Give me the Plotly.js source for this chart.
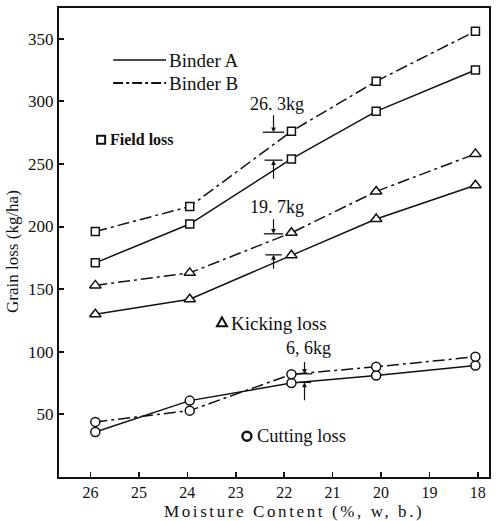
<!DOCTYPE html>
<html>
<head>
<meta charset="utf-8">
<script src="https://cdn.plot.ly/plotly-3.0.1.min.js"></script>
<style>
  html, body { margin: 0; padding: 0; background: #fff; }
  #chart { width: 501px; height: 521px; }
</style>
</head>
<body>
<div id="chart"></div>
<script>
// Moisture content of the crop at harvest (%, wet basis)
const moisture = [25.9, 23.95, 21.85, 20.1, 18.05];

// Grain losses (kg/ha) for the two binders
const fieldA   = [171, 202, 254, 292, 325];
const fieldB   = [196, 216, 276, 316, 356];
const kickA    = [130, 142, 177, 206, 233];
const kickB    = [153, 163, 195, 228, 258];
const cutA     = [36, 61, 75, 81, 89];
const cutB     = [44, 53, 82, 88, 96];

const xTicks = [26, 25, 24, 23, 22, 21, 20, 19, 18];
const yTicks = [50, 100, 150, 200, 250, 300, 350];

// Difference callouts between Binder B and Binder A
const gapLabels  = ['26. 3kg', '19. 7kg', '6, 6kg'];
const gapX       = [22.22, 22.22, 21.58];
const gapHalf    = [0.22, 0.2, 0.16];
const gapTop     = [275.3, 194.2, 82.4];
const gapBottom  = [253, 177.4, 75.5];
const gapTopTail = [290, 207, 93];
const gapBotTail = [237, 165, 60];
const gapTextY   = [298, 215.7, 103];

// Loss-type captions
const lossNames = ['Field loss', 'Kicking loss', 'Cutting loss'];

const FONT = 'Liberation Serif, Times New Roman, serif';
const INK = '#111';
const dashB = '12px,4px,3px,4px';

function series(y, symbol, size, dashed) {
  return {
    x: moisture, y: y, type: 'scatter', mode: 'lines+markers',
    line: { color: INK, width: 1.5, dash: dashed ? dashB : 'solid' },
    marker: { symbol: symbol, size: size, color: '#fff', line: { color: INK, width: 1.5 } },
    showlegend: false, hoverinfo: 'skip'
  };
}

const traces = [
  series(fieldA, 'square', 8, false),
  series(fieldB, 'square', 8, true),
  series(kickA, 'triangle-up', 10, false),
  series(kickB, 'triangle-up', 10, true),
  series(cutA, 'circle', 9, false),
  series(cutB, 'circle', 9, true)
];

const shapes = [];
const annotations = [];

// Legend lines drawn in paper space
shapes.push({ type: 'line', xref: 'paper', yref: 'paper', x0: 0.126, x1: 0.249, y0: 0.889, y1: 0.889,
  line: { color: INK, width: 1.6 } });
shapes.push({ type: 'line', xref: 'paper', yref: 'paper', x0: 0.126, x1: 0.249, y0: 0.840, y1: 0.840,
  line: { color: INK, width: 2, dash: '10px,3px,3px,3px' } });
annotations.push({ xref: 'paper', yref: 'paper', x: 0.250, y: 0.889, xanchor: 'left', yanchor: 'middle',
  text: 'Binder A', showarrow: false, font: { family: FONT, size: 19, color: INK } });
annotations.push({ xref: 'paper', yref: 'paper', x: 0.250, y: 0.840, xanchor: 'left', yanchor: 'middle',
  text: 'Binder B', showarrow: false, font: { family: FONT, size: 19, color: INK } });

// Symbol keys for the loss types (pixel-sized, anchored in paper space)
function key(x, y, shape) {
  const s = Object.assign({ xref: 'paper', yref: 'paper', xsizemode: 'pixel', ysizemode: 'pixel',
    xanchor: x, yanchor: y, line: { color: INK, width: 2 }, fillcolor: 'rgba(0,0,0,0)' }, shape);
  shapes.push(s);
}
key(0.098, 0.719, { type: 'rect', x0: -4, x1: 4, y0: -4, y1: 4 });
key(0.379, 0.330, { type: 'path', path: 'M -5 -4 L 5 -4 L 0 5 Z' });
key(0.437, 0.087, { type: 'circle', x0: -4.5, x1: 4.5, y0: -4.5, y1: 4.5, line: { color: INK, width: 2.4 } });

annotations.push({ xref: 'paper', yref: 'paper', x: 0.113, y: 0.719, xanchor: 'left', yanchor: 'middle',
  text: '<b>' + lossNames[0] + '</b>', showarrow: false, font: { family: FONT, size: 16, color: INK } });
annotations.push({ xref: 'paper', yref: 'paper', x: 0.396, y: 0.328, xanchor: 'left', yanchor: 'middle',
  text: lossNames[1], showarrow: false, font: { family: FONT, size: 19, color: INK } });
annotations.push({ xref: 'paper', yref: 'paper', x: 0.455, y: 0.087, xanchor: 'left', yanchor: 'middle',
  text: lossNames[2], showarrow: false, font: { family: FONT, size: 18.5, color: INK } });

// Dimension marks showing the gap between the binders
gapLabels.forEach(function (label, i) {
  const x = gapX[i], h = gapHalf[i];
  shapes.push({ type: 'line', xref: 'x', yref: 'y', x0: x + h, x1: x - h, y0: gapTop[i], y1: gapTop[i],
    line: { color: INK, width: 1.3 } });
  shapes.push({ type: 'line', xref: 'x', yref: 'y', x0: x + h * 0.85, x1: x - h * 0.85, y0: gapBottom[i], y1: gapBottom[i],
    line: { color: INK, width: 1.3 } });
  annotations.push({ x: x, y: gapTop[i], ax: x, ay: gapTopTail[i],
    axref: 'x', ayref: 'y', showarrow: true, arrowhead: 2, arrowsize: 0.8, arrowwidth: 1.2,
    arrowcolor: INK, text: '' });
  annotations.push({ x: x, y: gapBottom[i], ax: x, ay: gapBotTail[i],
    axref: 'x', ayref: 'y', showarrow: true, arrowhead: 2, arrowsize: 0.8, arrowwidth: 1.2,
    arrowcolor: INK, text: '' });
  annotations.push({ x: x - 0.08, y: gapTextY[i], showarrow: false, text: label,
    xanchor: 'center', yanchor: 'middle', font: { family: FONT, size: 18, color: INK } });
});

// Axis captions
annotations.push({ xref: 'paper', yref: 'paper', x: 0.546, y: -0.0725, xanchor: 'center', yanchor: 'middle',
  text: '<span style="letter-spacing:2.6px">Moisture Content (%, w, b.)</span>', showarrow: false,
  font: { family: FONT, size: 17, color: INK } });
annotations.push({ xref: 'paper', yref: 'paper', x: -0.107, y: 0.482, xanchor: 'center', yanchor: 'middle',
  textangle: -90, text: 'Grain loss (kg/ha)', showarrow: false,
  font: { family: FONT, size: 17, color: INK } });

const layout = {
  width: 501, height: 521,
  margin: { l: 59, r: 12, t: 8, b: 44 },
  paper_bgcolor: '#fff', plot_bgcolor: '#fff',
  font: { family: FONT, color: INK },
  xaxis: {
    range: [26.65, 17.77], tickvals: xTicks, ticktext: xTicks.map(String),
    ticks: 'inside', ticklen: 5, tickwidth: 1.5, tickcolor: INK,
    showline: true, linewidth: 2, linecolor: INK, mirror: true,
    showgrid: false, zeroline: false,
    tickfont: { family: FONT, size: 16, color: INK }
  },
  yaxis: {
    range: [0, 374.5], tickvals: yTicks, ticktext: yTicks.map(String),
    ticks: 'inside', ticklen: 5, tickwidth: 2, tickcolor: INK,
    showline: true, linewidth: 2, linecolor: INK, mirror: true,
    showgrid: false, zeroline: false,
    tickfont: { family: FONT, size: 17, color: INK },
    ticklabelstandoff: 0
  },
  shapes: shapes,
  annotations: annotations
};

Plotly.newPlot('chart', traces, layout, { displayModeBar: false, staticPlot: true });
</script>
</body>
</html>
